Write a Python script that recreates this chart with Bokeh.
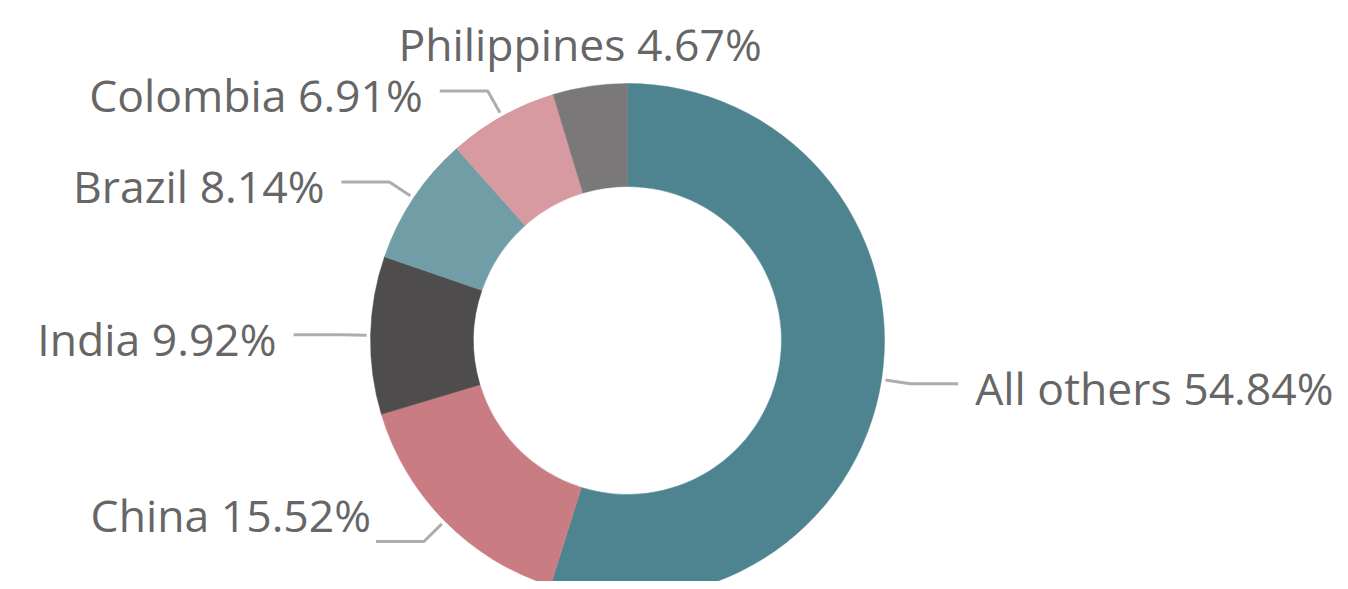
import math
from bokeh.plotting import figure
from bokeh.models import Range1d, ColumnDataSource
from bokeh.core.properties import value
from bokeh.embed import file_html
from bokeh.resources import INLINE

# ---- data ----
categories = ["All others", "China", "India", "Brazil", "Colombia", "Philippines"]
shares = [54.84, 15.52, 9.92, 8.14, 6.91, 4.67]
colors = ["#4E8490", "#C97D82", "#4E4C4D", "#709DA6", "#D69AA0", "#7A7879"]

# ---- layout ----
W, H = 1340, 581
cx, cy = 627, 589 - 340          # data coords (y up)
r_out, r_in = 257, 154
FONT = "Open Sans"
FS = "44.5px"
TXT = "#666666"
LINE = "#ADADAD"

p = figure(width=W, height=H, output_backend="svg", toolbar_location=None,
           x_range=Range1d(0, W), y_range=Range1d(589 - H, 589),
           min_border=0, outline_line_color=None)
p.axis.visible = False
p.grid.visible = False
p.background_fill_color = "white"

total = sum(shares)
starts, ends, mids = [], [], []
cum = 0.0
for s in shares:
    a0 = math.pi / 2 - 2 * math.pi * (cum + s) / total
    a1 = math.pi / 2 - 2 * math.pi * cum / total
    starts.append(a0)
    ends.append(a1)
    mids.append((a0 + a1) / 2)
    cum += s

src = ColumnDataSource(dict(start=starts, end=ends, color=colors))
p.annular_wedge(x=cx, y=cy, inner_radius=r_in, outer_radius=r_out,
                start_angle="start", end_angle="end", fill_color="color",
                line_color="color", line_width=0.5, source=src)

labels = [f"{c} {s:.2f}%" for c, s in zip(categories, shares)]
for i, (lab, m) in enumerate(zip(labels, mids)):
    if categories[i] == "Philippines":
        tx = cx + (r_out + 40) * math.cos(m) - 4
        ty = cy + r_out + 40
        p.text(x=[tx], y=[ty], text=[lab], text_font=value(FONT),
               text_font_size=FS, text_color=TXT, text_align="center",
               text_baseline="middle")
        continue
    x1 = cx + (r_out + 4) * math.cos(m)
    y1 = cy + (r_out + 4) * math.sin(m)
    x2 = cx + (r_out + 29) * math.cos(m)
    y2 = cy + (r_out + 29) * math.sin(m)
    side = 1 if math.cos(m) > 0 else -1
    x3 = x2 + side * 48
    p.line(x=[x1, x2, x3], y=[y1, y2, y2], line_color=LINE, line_width=3)
    if categories[i] == "China":
        tx, ty = x3 - 5, y2 + 27
    else:
        tx, ty = x3 + side * 17, y2 - 4
    p.text(x=[tx], y=[ty], text=[lab], text_font=value(FONT),
           text_font_size=FS, text_color=TXT,
           text_align="left" if side > 0 else "right", text_baseline="middle")

open("out.html", "w").write(file_html(p, INLINE))
